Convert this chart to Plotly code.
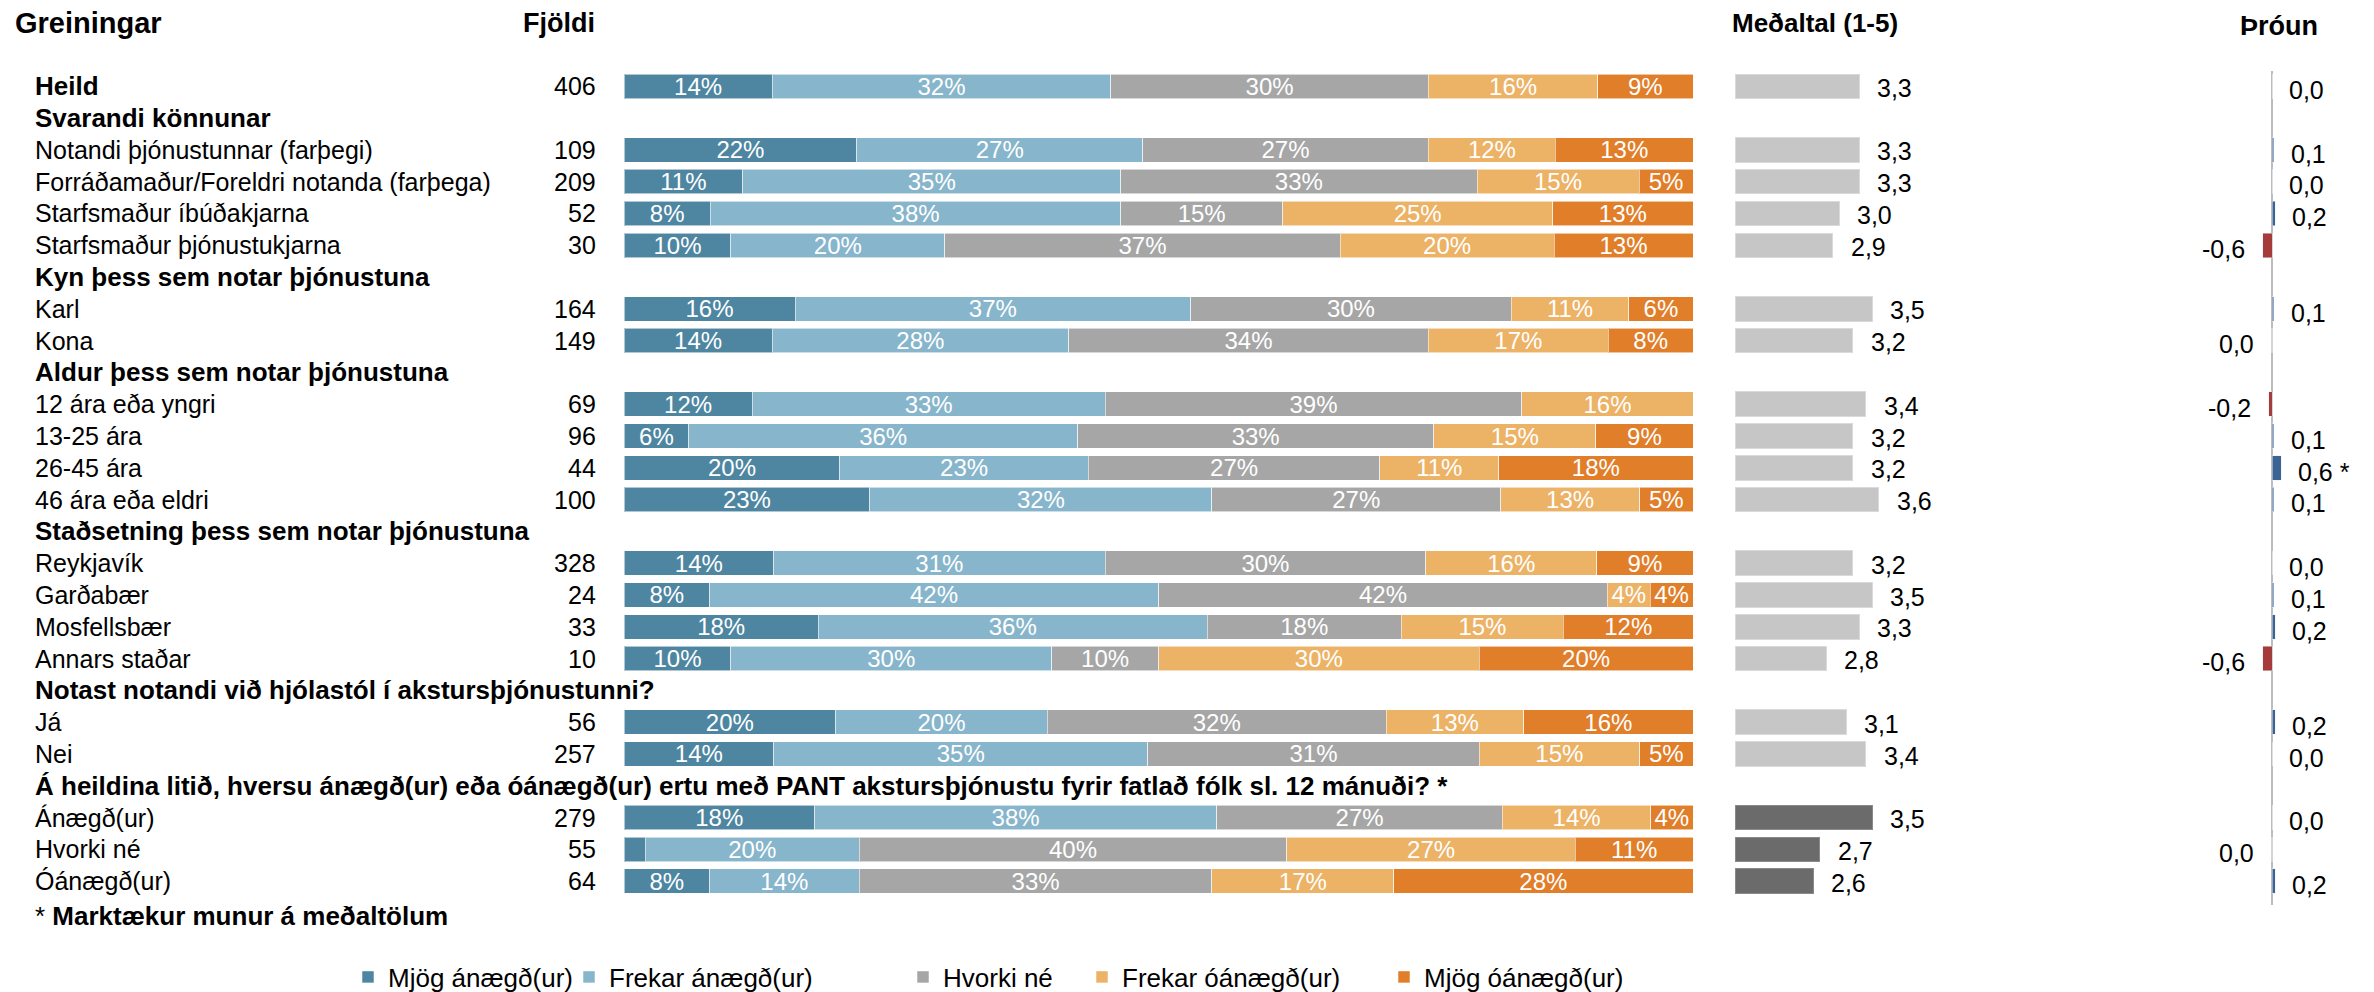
import plotly.graph_objects as go

W, H = 2374, 992
FONT = "Liberation Sans, Arial, sans-serif"

# ---------------- data ----------------
row_labels = [
    "Heild",
    "Svarandi könnunar",
    "Notandi þjónustunnar (farþegi)",
    "Forráðamaður/Foreldri notanda (farþega)",
    "Starfsmaður íbúðakjarna",
    "Starfsmaður þjónustukjarna",
    "Kyn þess sem notar þjónustuna",
    "Karl",
    "Kona",
    "Aldur þess sem notar þjónustuna",
    "12 ára eða yngri",
    "13-25 ára",
    "26-45 ára",
    "46 ára eða eldri",
    "Staðsetning þess sem notar þjónustuna",
    "Reykjavík",
    "Garðabær",
    "Mosfellsbær",
    "Annars staðar",
    "Notast notandi við hjólastól í akstursþjónustunni?",
    "Já",
    "Nei",
    "Á heildina litið, hversu ánægð(ur) eða óánægð(ur) ertu með PANT akstursþjónustu fyrir fatlað fólk sl. 12 mánuði? *",
    "Ánægð(ur)",
    "Hvorki né",
    "Óánægð(ur)",
]
bold_rows = [0, 1, 6, 9, 14, 19, 22]
header_rows = [1, 6, 9, 14, 19, 22]

counts = [406, None, 109, 209, 52, 30, None, 164, 149, None, 69, 96, 44, 100,
          None, 328, 24, 33, 10, None, 56, 257, None, 279, 55, 64]

categories = ["Mjög ánægð(ur)", "Frekar ánægð(ur)", "Hvorki né",
              "Frekar óánægð(ur)", "Mjög óánægð(ur)"]

mjog_anaegd = [14, None, 22, 11, 8, 10, None, 16, 14, None, 12, 6, 20, 23,
               None, 14, 8, 18, 10, None, 20, 14, None, 18, 2, 8]
frekar_anaegd = [32, None, 27, 35, 38, 20, None, 37, 28, None, 33, 36, 23, 32,
                 None, 31, 42, 36, 30, None, 20, 35, None, 38, 20, 14]
hvorki_ne = [30, None, 27, 33, 15, 37, None, 30, 34, None, 39, 33, 27, 27,
             None, 30, 42, 18, 10, None, 32, 31, None, 27, 40, 33]
frekar_oanaegd = [16, None, 12, 15, 25, 20, None, 11, 17, None, 16, 15, 11, 13,
                  None, 16, 4, 15, 30, None, 13, 15, None, 14, 27, 17]
mjog_oanaegd = [9, None, 13, 5, 13, 13, None, 6, 8, None, 0, 9, 18, 5,
                None, 9, 4, 12, 20, None, 16, 5, None, 4, 11, 28]

medaltal = [3.3, None, 3.3, 3.3, 3.0, 2.9, None, 3.5, 3.2, None, 3.4, 3.2, 3.2, 3.6,
            None, 3.2, 3.5, 3.3, 2.8, None, 3.1, 3.4, None, 3.5, 2.7, 2.6]

throun = [0.03, None, 0.1, 0.03, 0.2, -0.6, None, 0.1, -0.03, None, -0.2, 0.1, 0.6, 0.1,
          None, 0.03, 0.1, 0.2, -0.6, None, 0.2, 0.03, None, 0.03, -0.03, 0.2]
throun_sig = ["", "", "", "", "", "", "", "", "", "", "", "", "*", "",
              "", "", "", "", "", "", "", "", "", "", "", ""]

# ---------------- styles ----------------
seg_colors = ["#4E86A1", "#87B5CB", "#A6A6A6", "#ECB266", "#E07E2A"]
mean_light, mean_dark = "#C6C6C6", "#6B6B6B"
pos_col, neg_col = "#3D6392", "#A53B3B"
PCT = 24      # percentage labels in bars
TXT = 25      # row labels / values
HDR = 26      # bold group headers
LEG = 26


def px_x(p):
    return p / W


def px_y(p):
    return 1 - p / H


rows = list(range(len(row_labels)))
series = [mjog_anaegd, frekar_anaegd, hvorki_ne, frekar_oanaegd, mjog_oanaegd]

# normalise each row to its total so bars fill the full width
totals = []
for r in rows:
    vals = [s[r] for s in series]
    totals.append(sum(vals) if vals[0] is not None else None)

fig = go.Figure()

legend_x = [348, 569, 903, 1082, 1384]
for i, (cat, s) in enumerate(zip(categories, series)):
    xs, txt = [], []
    for r in rows:
        if s[r] is None:
            xs.append(None)
            txt.append("")
        else:
            xs.append(s[r] / totals[r])
            txt.append(f"{s[r]}%" if s[r] >= 3 else "")
    lg = "legend" if i == 0 else f"legend{i + 1}"
    fig.add_trace(go.Bar(
        x=xs, y=rows, orientation="h", name=cat, text=txt,
        textposition="inside", insidetextanchor="middle", textangle=0,
        constraintext="none",
        textfont=dict(color="white", size=PCT, family=FONT),
        marker=dict(color=seg_colors[i], line=dict(color="rgba(255,255,255,0.55)", width=1)),
        width=0.77, xaxis="x", yaxis="y", legend=lg, hoverinfo="skip",
    ))

# mean bars
last_header = header_rows[-1]
mean_cols = [mean_dark if r > last_header else mean_light for r in rows]
mean_line = ["#8A8A8A" if r > last_header else "#DADADA" for r in rows]
fig.add_trace(go.Bar(
    x=[(m - 1.4) if m is not None else None for m in medaltal], base=1.4,
    y=rows, orientation="h", width=0.77,
    marker=dict(color=mean_cols, line=dict(color=mean_line, width=1)),
    xaxis="x2", yaxis="y", showlegend=False, hoverinfo="skip",
))

# trend bars
fig.add_trace(go.Bar(
    x=throun, y=rows, orientation="h", width=0.77,
    marker=dict(color=[(pos_col if (v is not None and v >= 0) else neg_col) for v in throun]),
    xaxis="x3", yaxis="y", showlegend=False, hoverinfo="skip",
))

annotations = []
# row labels and counts
for r in rows:
    lab = row_labels[r]
    size = TXT
    if r in bold_rows:
        lab = f"<b>{lab}</b>"
        size = HDR
    annotations.append(dict(x=px_x(33), xref="paper", y=r, yref="y", text=lab,
                            xanchor="left", yanchor="middle", showarrow=False,
                            font=dict(size=size, family=FONT, color="black")))
    if counts[r] is not None:
        annotations.append(dict(x=px_x(598), xref="paper", y=r, yref="y",
                                text=str(counts[r]), xanchor="right", yanchor="middle",
                                showarrow=False, font=dict(size=TXT, family=FONT, color="black")))
    if medaltal[r] is not None:
        annotations.append(dict(x=medaltal[r], xref="x2", y=r + 0.05, yref="y",
                                text=f"{medaltal[r]:.1f}".replace(".", ","),
                                xanchor="left", yanchor="middle", xshift=16, showarrow=False,
                                font=dict(size=TXT, family=FONT, color="black")))
    if throun[r] is not None:
        v = throun[r]
        s = f"{abs(v):.1f}" if round(v, 1) == 0 else f"{v:.1f}"
        s = s.replace(".", ",")
        if throun_sig[r]:
            s += " " + throun_sig[r]
        annotations.append(dict(x=v, xref="x3", y=r + 0.12, yref="y", text=s,
                                xanchor="left" if v >= 0 else "right", yanchor="middle",
                                xshift=15 if v >= 0 else -16, showarrow=False,
                                font=dict(size=TXT, family=FONT, color="black")))

# column headers
annotations += [
    dict(x=px_x(13), xref="paper", y=px_y(23), yref="paper", text="<b>Greiningar</b>",
         xanchor="left", yanchor="middle", showarrow=False,
         font=dict(size=29, family=FONT, color="black")),
    dict(x=px_x(597), xref="paper", y=px_y(23), yref="paper", text="<b>Fjöldi</b>",
         xanchor="right", yanchor="middle", showarrow=False,
         font=dict(size=27, family=FONT, color="black")),
    dict(x=px_x(1730), xref="paper", y=px_y(23), yref="paper", text="<b>Meðaltal (1-5)</b>",
         xanchor="left", yanchor="middle", showarrow=False,
         font=dict(size=26, family=FONT, color="black")),
    dict(x=px_x(2279), xref="paper", y=px_y(26), yref="paper", text="<b>Þróun</b>",
         xanchor="center", yanchor="middle", showarrow=False,
         font=dict(size=27, family=FONT, color="black")),
    dict(x=px_x(33), xref="paper", y=px_y(916), yref="paper",
         text="* <b>Marktækur munur á meðaltölum</b>",
         xanchor="left", yanchor="middle", showarrow=False,
         font=dict(size=HDR, family=FONT, color="black")),
]

layout = dict(
    width=W, height=H, autosize=False,
    margin=dict(l=0, r=0, t=0, b=0, autoexpand=False),
    paper_bgcolor="white", plot_bgcolor="white",
    barmode="stack", bargap=0.2,
    font=dict(family=FONT, size=TXT, color="black"),
    xaxis=dict(domain=[px_x(624), px_x(1693)], range=[0, 1], visible=False,
               anchor="y", fixedrange=True),
    xaxis2=dict(domain=[px_x(1735), px_x(2050)], range=[1.4, 1.4 + 315 / 65.3],
                visible=False, anchor="y", fixedrange=True),
    xaxis3=dict(domain=[px_x(2180), px_x(2364)], range=[-6, 6], visible=False,
                anchor="y", fixedrange=True),
    yaxis=dict(domain=[px_y(897), px_y(70.4)], range=[len(rows) - 0.5, -0.5],
               visible=False, anchor="x", fixedrange=True),
    annotations=annotations,
    shapes=[dict(type="line", xref="x3", x0=0, x1=0, yref="paper",
                 y0=px_y(905), y1=px_y(71), line=dict(color="#A6A6A6", width=1.5),
                 layer="below")],
    showlegend=True,
)
for i, lx in enumerate(legend_x):
    name = "legend" if i == 0 else f"legend{i + 1}"
    layout[name] = dict(x=px_x(lx), xanchor="left", y=px_y(977), yanchor="middle",
                        orientation="h", bgcolor="rgba(0,0,0,0)",
                        font=dict(size=LEG, family=FONT, color="black"))

fig.update_layout(**layout)
fig.write_html("out.html", config={"displayModeBar": False},
               post_script="document.body.style.margin='0px';")
